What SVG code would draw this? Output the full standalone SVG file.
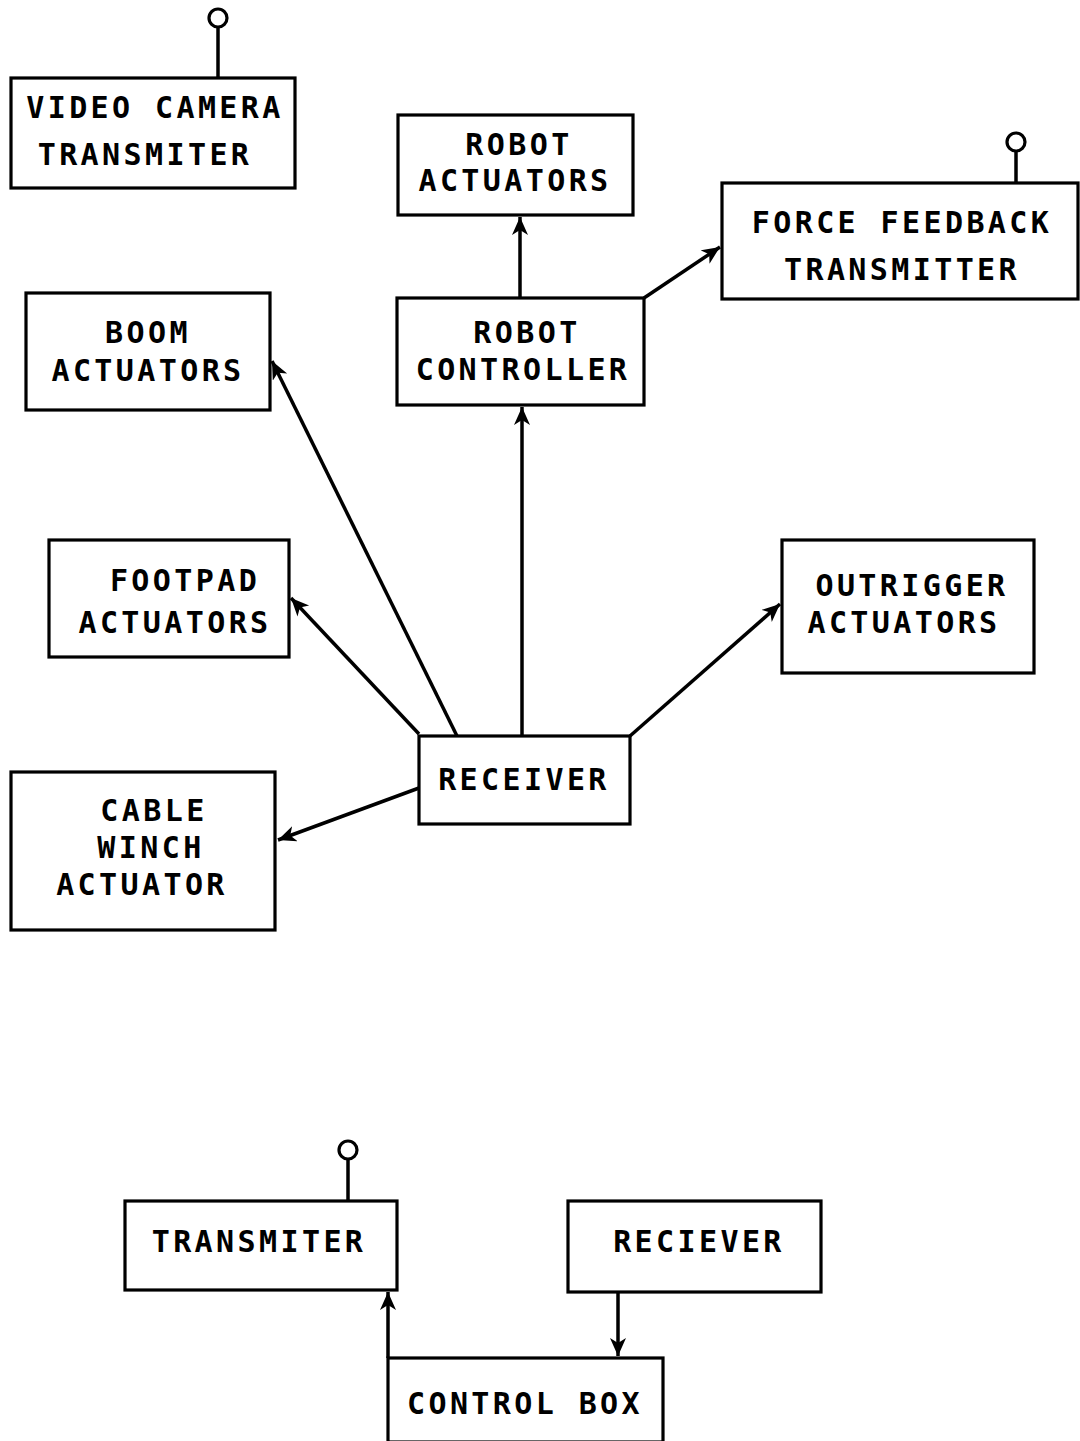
<svg xmlns="http://www.w3.org/2000/svg" width="1080" height="1441" viewBox="0 0 1080 1441">
  <style>
    .box { fill: #fff; stroke: #000; stroke-width: 3.2; }
    .lbl { font-family: "DejaVu Sans Mono", "Liberation Mono", monospace; font-weight: bold; font-size: 30px; letter-spacing: 3.4px; text-anchor: middle; fill: #000; }
    .wire { fill: none; stroke: #000; stroke-width: 3.5; }
    .ant { fill: #fff; stroke: #000; stroke-width: 3.2; }
  </style>
  <defs>
    <marker id="arrow" markerUnits="userSpaceOnUse" markerWidth="20" markerHeight="18" refX="18" refY="8" orient="auto">
      <path d="M0,0 L18,8 L0,16 L5,8 Z" fill="#000"/>
    </marker>
  </defs>
  <rect width="1080" height="1441" fill="#fff"/>

  <!-- connectors -->
  <g id="connectors">
    <line class="wire" x1="520" y1="298" x2="520" y2="217" marker-end="url(#arrow)"/>
    <line class="wire" x1="644" y1="298" x2="720" y2="247" marker-end="url(#arrow)"/>
    <line class="wire" x1="522" y1="736" x2="522" y2="407" marker-end="url(#arrow)"/>
    <line class="wire" x1="457" y1="736" x2="272" y2="361" marker-end="url(#arrow)"/>
    <line class="wire" x1="419" y1="734" x2="291" y2="598" marker-end="url(#arrow)"/>
    <line class="wire" x1="630" y1="736" x2="780" y2="604" marker-end="url(#arrow)"/>
    <line class="wire" x1="419" y1="788" x2="278" y2="840" marker-end="url(#arrow)"/>
    <line class="wire" x1="388" y1="1358" x2="388" y2="1292" marker-end="url(#arrow)"/>
    <line class="wire" x1="618" y1="1292" x2="618" y2="1356" marker-end="url(#arrow)"/>
  </g>

  <!-- nodes -->
  <g id="video-camera-transmitter">
    <line class="wire" x1="218" y1="27" x2="218" y2="78"/>
    <circle class="ant" cx="218" cy="18" r="9"/>
    <rect class="box" x="11" y="78" width="284" height="110"/>
    <text class="lbl" x="155" y="118">VIDEO CAMERA</text>
    <text class="lbl" x="145" y="165">TRANSMITER</text>
  </g>

  <g id="robot-actuators">
    <rect class="box" x="398" y="115" width="235" height="100"/>
    <text class="lbl" x="519" y="155">ROBOT</text>
    <text class="lbl" x="515" y="191">ACTUATORS</text>
  </g>

  <g id="force-feedback-transmitter">
    <line class="wire" x1="1016" y1="151" x2="1016" y2="183"/>
    <circle class="ant" cx="1016" cy="142" r="9"/>
    <rect class="box" x="722" y="183" width="356" height="116"/>
    <text class="lbl" x="902" y="233">FORCE FEEDBACK</text>
    <text class="lbl" x="902" y="280">TRANSMITTER</text>
  </g>

  <g id="robot-controller">
    <rect class="box" x="397" y="298" width="247" height="107"/>
    <text class="lbl" x="527" y="343">ROBOT</text>
    <text class="lbl" x="523" y="380">CONTROLLER</text>
  </g>

  <g id="boom-actuators">
    <rect class="box" x="26" y="293" width="244" height="117"/>
    <text class="lbl" x="148" y="343">BOOM</text>
    <text class="lbl" x="148" y="381">ACTUATORS</text>
  </g>

  <g id="footpad-actuators">
    <rect class="box" x="49" y="540" width="240" height="117"/>
    <text class="lbl" x="185" y="591">FOOTPAD</text>
    <text class="lbl" x="175" y="633">ACTUATORS</text>
  </g>

  <g id="outrigger-actuators">
    <rect class="box" x="782" y="540" width="252" height="133"/>
    <text class="lbl" x="912" y="596">OUTRIGGER</text>
    <text class="lbl" x="904" y="633">ACTUATORS</text>
  </g>

  <g id="receiver">
    <rect class="box" x="419" y="736" width="211" height="88"/>
    <text class="lbl" x="524" y="790">RECEIVER</text>
  </g>

  <g id="cable-winch-actuator">
    <rect class="box" x="11" y="772" width="264" height="158"/>
    <text class="lbl" x="154" y="821">CABLE</text>
    <text class="lbl" x="151" y="858">WINCH</text>
    <text class="lbl" x="142" y="895">ACTUATOR</text>
  </g>

  <g id="transmiter">
    <line class="wire" x1="348" y1="1159" x2="348" y2="1201"/>
    <circle class="ant" cx="348" cy="1150" r="9"/>
    <rect class="box" x="125" y="1201" width="272" height="89"/>
    <text class="lbl" x="259" y="1252">TRANSMITER</text>
  </g>

  <g id="reciever">
    <rect class="box" x="568" y="1201" width="253" height="91"/>
    <text class="lbl" x="699" y="1252">RECIEVER</text>
  </g>

  <g id="control-box">
    <rect class="box" x="388" y="1358" width="275" height="84"/>
    <text class="lbl" x="525" y="1414">CONTROL BOX</text>
  </g>
</svg>
